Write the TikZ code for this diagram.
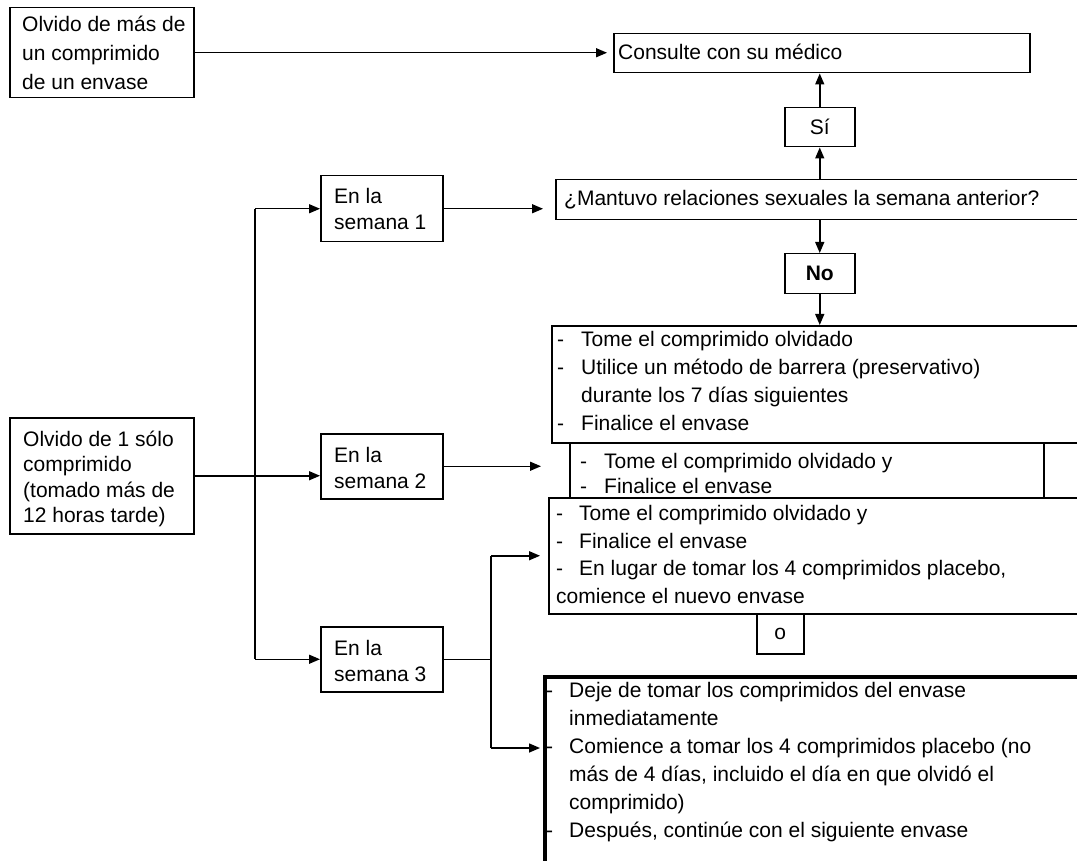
\documentclass[tikz,border=0pt]{standalone}
\usepackage{fontspec}
\setmainfont{Liberation Sans}
\usetikzlibrary{arrows.meta}
\newcommand\myfs[1]{\fontsize{21}{#1}\selectfont}
\begin{document}
\begin{tikzpicture}[x=1pt,y=-1pt,
  box/.style={draw, line width=1.5pt, inner sep=0pt, anchor=north west},
  thickbox/.style={draw, line width=3.8pt, inner sep=0pt, anchor=north west},
  txt/.style={anchor=base west, inner sep=0pt, align=left},
  arr/.style={line width=1.5pt, -{Triangle[length=11pt,width=9pt]}},
  ln/.style={line width=1.5pt}
]
\useasboundingbox (0,0) rectangle (1077,861);
\clip (0,0) rectangle (1077,861);

% top left (text anchored at the baseline of its last line)
\node[box, minimum width=184pt, minimum height=90pt] (multi) at (9,7) {};
\node[txt, font=\myfs{29}] (multitxt) at (22,90) {Olvido de más de\\un comprimido\\de un envase};

\node[box, minimum width=416pt, minimum height=39pt] (cons) at (613,33) {};
\node[txt, font=\myfs{25}] (constxt) at (618,60) {Consulte con su médico};

\node[box, minimum width=70pt, minimum height=39pt] (si) at (784,107) {};
\node[font=\myfs{25}] (sitxt) at (si.center) {Sí};

\node[box, minimum width=545pt, minimum height=40pt] (mant) at (555,179) {};
\node[txt, font=\myfs{25}] (manttxt) at (564,206) {¿Mantuvo relaciones sexuales la semana anterior?};

\node[box, minimum width=70pt, minimum height=40pt] (no) at (784,253) {};
\node[font=\myfs{25}\bfseries] (notxt) at (no.center) {No};

% result boxes
\node[box, minimum width=549pt, minimum height=117pt] (wa) at (551,325) {};
\node[txt, font=\myfs{28}] (watxt) at (557,430) {\makebox[24pt][l]{-}Tome el comprimido olvidado\\
\makebox[24pt][l]{-}Utilice un método de barrera (preservativo)\\
\hspace*{24pt}durante los 7 días siguientes\\
\makebox[24pt][l]{-}Finalice el envase};

\node[box, minimum width=474pt, minimum height=55pt] (wb) at (569,442) {};
\node[txt, font=\myfs{25}] (wbtxt) at (580,493) {\makebox[24pt][l]{-}Tome el comprimido olvidado y\\
\makebox[24pt][l]{-}Finalice el envase};

\node[box, minimum width=552pt, minimum height=116pt] (wc) at (548,497) {};
\node[txt, font=\myfs{27.4}] (wctxt) at (556,603) {\makebox[23pt][l]{-}Tome el comprimido olvidado y\\
\makebox[23pt][l]{-}Finalice el envase\\
\makebox[23pt][l]{-}En lugar de tomar los 4 comprimidos placebo,\\
comience el nuevo envase};

\node[box, minimum width=47pt, minimum height=40pt] (o) at (756,613) {};
\node[font=\myfs{25}] (otxt) at (o.center) {o};

\node[thickbox, minimum width=560pt, minimum height=220pt] (wd) at (543,675) {};
\node[txt, font=\myfs{28}] (wdtxt) at (546,837) {\makebox[23pt][l]{-}Deje de tomar los comprimidos del envase\\
\hspace*{23pt}inmediatamente\\
\makebox[23pt][l]{-}Comience a tomar los 4 comprimidos placebo (no\\
\hspace*{23pt}más de 4 días, incluido el día en que olvidó el\\
\hspace*{23pt}comprimido)\\
\makebox[23pt][l]{-}Después, continúe con el siguiente envase};

% left part
\node[box, minimum width=184pt, minimum height=116pt] (olv) at (9,417) {};
\node[txt, font=\myfs{25.5}] (olvtxt) at (23,522.5) {Olvido de 1 sólo\\comprimido\\(tomado más de\\12 horas tarde)};

\node[box, minimum width=122pt, minimum height=66pt] (s1) at (320,175) {};
\node[txt, font=\myfs{26}] (s1txt) at (334,230) {En la\\semana 1};
\node[box, minimum width=122pt, minimum height=65pt] (s2) at (320,433) {};
\node[txt, font=\myfs{26}] (s2txt) at (334,488) {En la\\semana 2};
\node[box, minimum width=122pt, minimum height=65pt] (s3) at (320,626) {};
\node[txt, font=\myfs{26}] (s3txt) at (334,681) {En la\\semana 3};

\coordinate (trunk) at (255,0);
\coordinate (branch) at (491,0);
\coordinate (wdin) at (543,748);

% connectors
\draw[arr, shorten >=6pt] (multi.east) -- (multi.east -| cons.west);
\draw[arr] (si.north) -- (si.north |- cons.south);
\draw[arr] (si.south |- mant.north) -- (si.south);
\draw[arr] (no.north |- mant.south) -- (no.north);
\draw[arr] (no.south) -- (no.south |- wa.north);

\draw[ln] (trunk |- s1.west) -- (trunk |- s3.west);
\draw[arr] (trunk |- s1.west) -- (s1.west);
\draw[arr] (olv.east) -- (olv.east -| s2.west);
\draw[arr] (trunk |- s3.west) -- (s3.west);

\draw[arr, shorten >=12pt] (s1.east) -- (s1.east -| mant.west);
\draw[arr, shorten >=28pt] (s2.east) -- (s2.east -| wb.west);
\draw[ln] (s3.east) -- (s3.east -| branch);
\draw[ln] (branch |- wc.west) -- (branch |- wdin);
\draw[arr, shorten >=8pt] (branch |- wc.west) -- (wc.west);
\draw[arr, shorten >=3pt] (branch |- wdin) -- (wdin);
\end{tikzpicture}
\end{document}
